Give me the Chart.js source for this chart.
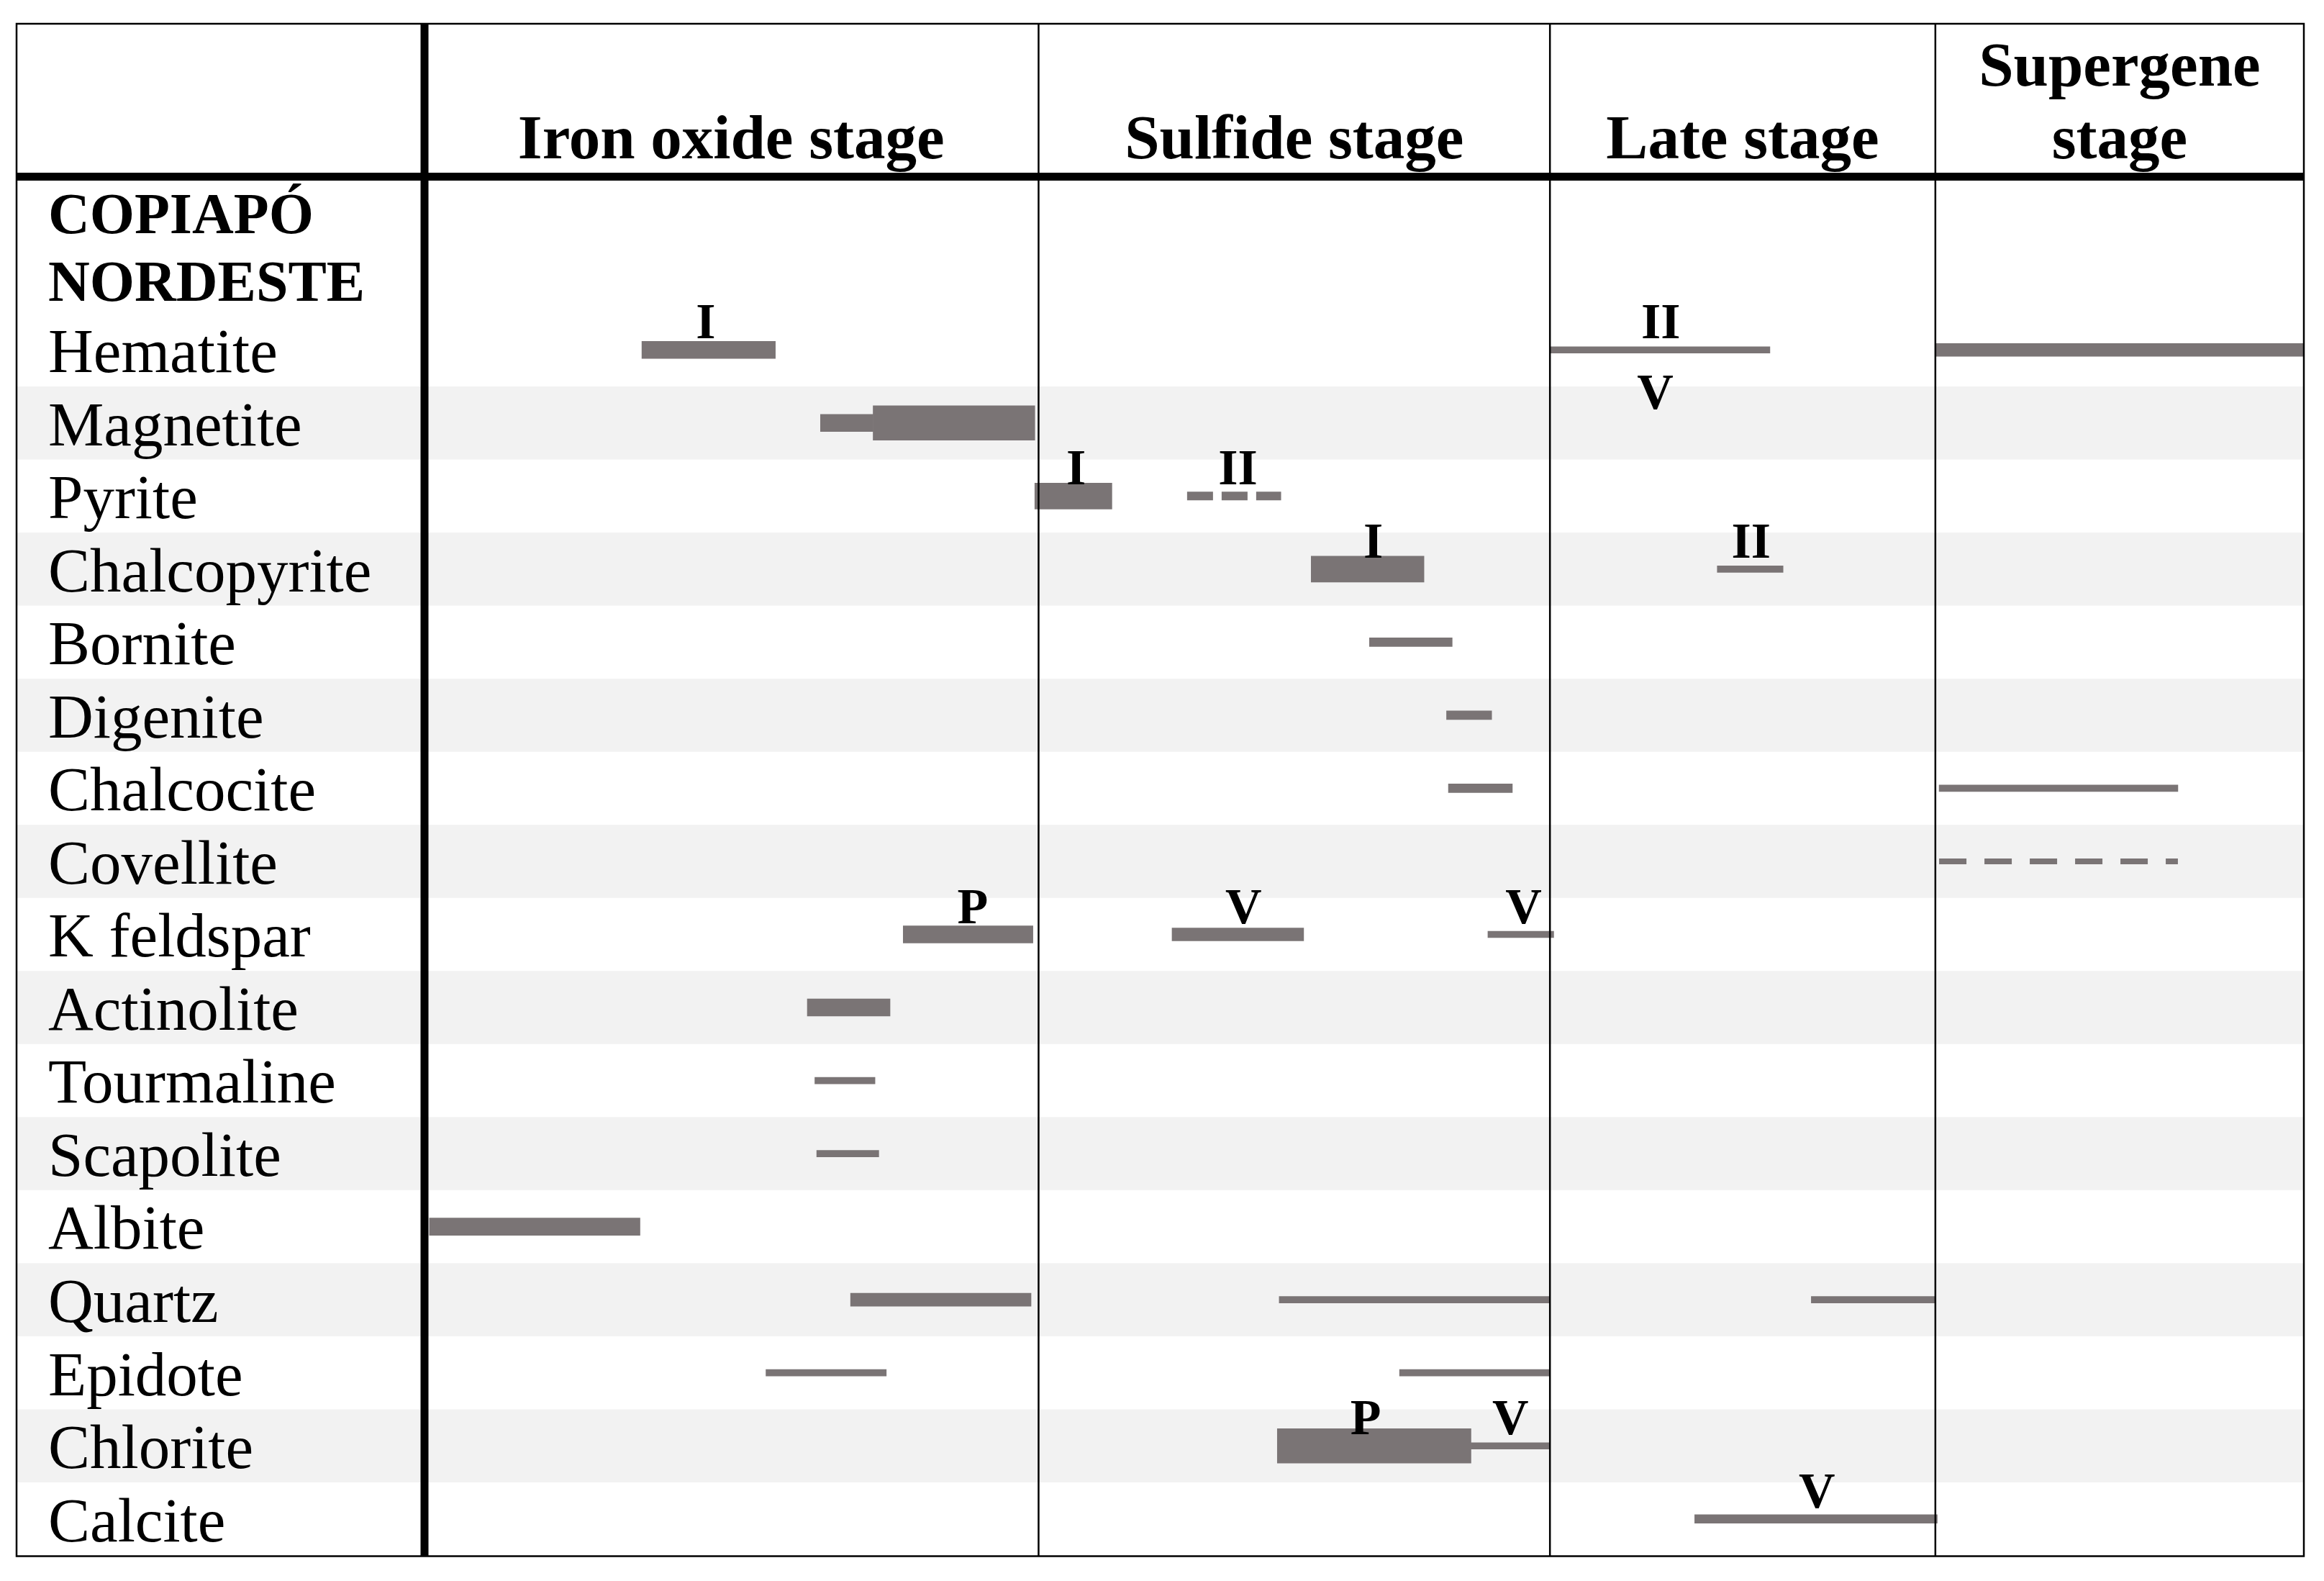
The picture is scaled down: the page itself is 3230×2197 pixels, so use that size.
<!DOCTYPE html>
<html>
<head>
<meta charset="utf-8">
<title>Paragenesis - Copiapó Nordeste</title>
<script src="https://cdn.jsdelivr.net/npm/chart.js@4.4.1/dist/chart.umd.min.js"></script>
<style>
    html, body { margin: 0; padding: 0; background: #fff; }
    canvas { display: block; }
</style>
</head>
<body>
<canvas id="paragenesis" width="3230" height="2197"></canvas>
<script>
var district = ['COPIAPÓ', 'NORDESTE'];
var minerals = ['Hematite', 'Magnetite', 'Pyrite', 'Chalcopyrite', 'Bornite', 'Digenite',
    'Chalcocite', 'Covellite', 'K feldspar', 'Actinolite', 'Tourmaline', 'Scapolite',
    'Albite', 'Quartz', 'Epidote', 'Chlorite', 'Calcite'];
var stages = ['Iron oxide stage', 'Sulfide stage', 'Late stage', 'Supergene stage'];
// stage limits on the relative time axis (0 - 100)
var stageBounds = [0, 32.7, 59.9, 80.4, 100];

// [mineral, from, to] on the relative time axis
var abundant = [['Magnetite', 23.9, 32.5], ['Chlorite', 45.4, 55.7]];
var common = [['Pyrite', 32.5, 36.6], ['Chalcopyrite', 47.2, 53.2]];
var moderate = [['Hematite', 11.6, 18.7], ['Magnetite', 21.1, 23.9], ['K feldspar', 25.5, 32.4],
    ['Actinolite', 20.4, 24.8], ['Albite', 0.3, 11.5]];
var minor = [['Hematite', 80.4, 100], ['K feldspar', 39.8, 46.8], ['Quartz', 22.7, 32.3]];
var scarce = [['Bornite', 50.3, 54.7], ['Digenite', 54.4, 56.8], ['Chalcocite', 54.5, 57.9],
    ['Calcite', 67.6, 80.5]];
var trace = [['Hematite', 59.9, 71.6], ['Chalcopyrite', 68.8, 72.3], ['Chalcocite', 80.6, 93.3],
    ['K feldspar', 56.6, 60.1], ['Tourmaline', 20.8, 24.0], ['Scapolite', 20.9, 24.2],
    ['Quartz', 45.5, 59.9], ['Epidote', 18.2, 24.6], ['Chlorite', 55.7, 59.9]];
var trace2 = [['Quartz', 73.8, 80.4], ['Epidote', 51.9, 59.9]];
var uncertainSulfide = [['Pyrite', 40.6, 45.6]];
var uncertainSupergene = [['Covellite', 80.6, 93.3]];

// event labels: I, II = pulses, P = pervasive, V = veins
var marks = [['Hematite', 15.0, 'I'], ['Hematite', 65.8, 'II'], ['Pyrite', 34.7, 'I'],
    ['Pyrite', 43.3, 'II'], ['Chalcopyrite', 50.5, 'I'], ['Chalcopyrite', 70.6, 'II'],
    ['K feldspar', 29.2, 'P'], ['K feldspar', 43.6, 'V'], ['K feldspar', 58.5, 'V'],
    ['Chlorite', 50.1, 'P'], ['Chlorite', 57.8, 'V'], ['Calcite', 74.1, 'V']];
var marksBelow = [['Hematite', 65.5, 'V']];

var gray = '#7a7475';
var serif = "'Liberation Serif', 'Times New Roman', serif";

function toBars(list) {
    return list.map(function(r) {
        return { y: r[0], x: [r[1], r[2]] };
    });
}

function barSet(list, thickness, dash) {
    return {
        data: toBars(list),
        barThickness: thickness,
        backgroundColor: dash ? 'rgba(0,0,0,0)' : gray,
        borderWidth: 0,
        borderSkipped: false,
        grouped: false,
        dash: dash || null
    };
}

var tablePlugin = {
    id: 'table',
    beforeDraw: function(chart) {
        var ctx = chart.ctx;
        var area = chart.chartArea;
        var y = chart.scales.y;
        var rowH = (area.bottom - area.top) / minerals.length;
        ctx.save();
        ctx.fillStyle = '#fff';
        ctx.fillRect(0, 0, chart.width, chart.height);
        // alternate row shading
        ctx.fillStyle = '#f2f2f2';
        for (var i = 1; i < minerals.length; i += 2) {
            var yc = y.getPixelForValue(i);
            ctx.fillRect(23, yc - rowH / 2, area.right - 23, rowH);
        }
        ctx.restore();
    },
    afterDatasetsDraw: function(chart) {
        var ctx = chart.ctx;
        var area = chart.chartArea;
        var x = chart.scales.x;
        ctx.save();

        // dashed bars (uncertain occurrence)
        chart.data.datasets.forEach(function(ds, i) {
            if (!ds.dash) return;
            chart.getDatasetMeta(i).data.forEach(function(el) {
                var p = el.getProps(['x', 'y', 'base', 'height'], true);
                ctx.beginPath();
                ctx.setLineDash(ds.dash);
                ctx.lineCap = 'butt';
                ctx.lineWidth = p.height;
                ctx.strokeStyle = gray;
                ctx.moveTo(Math.min(p.x, p.base), p.y);
                ctx.lineTo(Math.max(p.x, p.base), p.y);
                ctx.stroke();
            });
        });
        ctx.setLineDash([]);

        var top = 33, left = 23, bottom = area.bottom + 1, right = area.right;
        ctx.strokeStyle = '#000';

        // outer frame
        ctx.lineWidth = 2.5;
        ctx.strokeRect(left, top, right - left, bottom - top);

        // stage dividers
        for (var i = 1; i < stageBounds.length - 1; i++) {
            var px = x.getPixelForValue(stageBounds[i]);
            ctx.beginPath();
            ctx.moveTo(px, top);
            ctx.lineTo(px, bottom);
            ctx.stroke();
        }

        // heavy rules
        ctx.lineWidth = 11;
        ctx.beginPath();
        ctx.moveTo(area.left + 1, top);
        ctx.lineTo(area.left + 1, bottom);
        ctx.stroke();
        ctx.beginPath();
        ctx.moveTo(left, 245.5);
        ctx.lineTo(right, 245.5);
        ctx.stroke();
        ctx.restore();
    },
    afterDraw: function(chart) {
        var ctx = chart.ctx;
        var area = chart.chartArea;
        var x = chart.scales.x;
        var y = chart.scales.y;
        ctx.save();
        ctx.fillStyle = '#000';

        // stage headers
        ctx.font = 'bold 87px ' + serif;
        ctx.textAlign = 'center';
        ctx.textBaseline = 'alphabetic';
        for (var i = 0; i < stages.length; i++) {
            var x0 = x.getPixelForValue(stageBounds[i]);
            var x1 = x.getPixelForValue(stageBounds[i + 1]);
            var lines = [stages[i]];
            if (ctx.measureText(stages[i]).width > x1 - x0 - 30) {
                var cut = stages[i].lastIndexOf(' ');
                lines = [stages[i].slice(0, cut), stages[i].slice(cut + 1)];
            }
            for (var j = 0; j < lines.length; j++) {
                ctx.fillText(lines[j], (x0 + x1) / 2, 220 - (lines.length - 1 - j) * 101);
            }
        }

        // district name
        ctx.font = 'bold 80px ' + serif;
        ctx.textAlign = 'left';
        ctx.fillText(district[0], 67, area.top - 112);
        ctx.fillText(district[1], 67, area.top - 18);

        // event labels
        ctx.font = 'bold 70px ' + serif;
        ctx.textAlign = 'center';
        marks.forEach(function(m) {
            ctx.fillText(m[2], x.getPixelForValue(m[1]), y.getPixelForValue(minerals.indexOf(m[0])) - 16);
        });
        marksBelow.forEach(function(m) {
            ctx.fillText(m[2], x.getPixelForValue(m[1]), y.getPixelForValue(minerals.indexOf(m[0])) + 82);
        });
        ctx.restore();
    }
};

var ctx = document.getElementById('paragenesis').getContext('2d');
var chart = new Chart(ctx, {
    type: 'bar',
    data: {
        labels: minerals,
        datasets: [
            barSet(abundant, 48),
            barSet(common, 36),
            barSet(moderate, 24),
            barSet(minor, 18),
            barSet(scarce, 12),
            barSet(trace, 9),
            barSet(trace2, 9),
            barSet(uncertainSulfide, 12, [36, 12]),
            barSet(uncertainSupergene, 8, [38, 25])
        ]
    },
    options: {
        indexAxis: 'y',
        responsive: false,
        devicePixelRatio: 1,
        animation: false,
        layout: {
            padding: { left: 67, top: 435.5, right: 28, bottom: 35.5 }
        },
        plugins: {
            legend: { display: false },
            tooltip: { enabled: false }
        },
        scales: {
            x: {
                type: 'linear',
                min: 0,
                max: 100,
                display: false
            },
            y: {
                grid: { display: false },
                border: { display: false },
                ticks: {
                    crossAlign: 'far',
                    autoSkip: false,
                    padding: 0,
                    labelOffset: 8,
                    color: '#000',
                    font: { family: serif, size: 87 }
                },
                afterFit: function(s) {
                    s.width = 522;
                    s.paddingTop = 0;
                    s.paddingBottom = 0;
                }
            }
        }
    },
    plugins: [tablePlugin]
});
</script>
</body>
</html>
